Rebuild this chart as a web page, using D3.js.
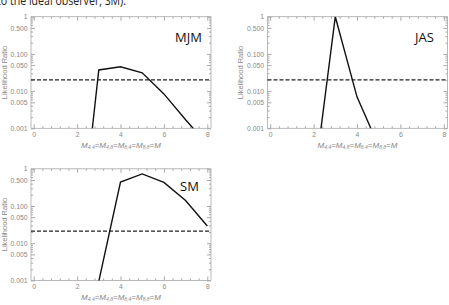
<!doctype html>
<html lang="en">
<head>
  <meta charset="utf-8">
  <title>Likelihood ratio panels - D3</title>
  <style>
    body { margin: 0; background: #fff; }
    svg { display: block; }
  </style>
</head>
<body>
  <svg></svg>
  <script src="https://cdn.jsdelivr.net/npm/d3@7/dist/d3.min.js"></script>
  <script>
    // data
    var mValues = [2, 3, 4, 5, 6, 7, 8];
    var mjmRatio = [2e-7, 0.037, 0.045, 0.031, 0.0084, 0.0017, 0.00037];
    var jasRatio = [2.8e-5, 1, 0.007, 0.00033, 1e-5, 1e-6, 1e-7];
    var smRatio = [1e-6, 0.00095, 0.44, 0.73, 0.43, 0.14, 0.029];
    var threshold = [0.02, 0.02, 0.021];
    var panelNames = ['MJM', 'JAS', 'SM'];
    var xTickValues = [0, 2, 4, 6, 8];
    var yTickValues = [1, 0.5, 0.1, 0.05, 0.01, 0.005, 0.001];
    var yTickLabels = ['1', '0.500', '0.100', '0.050', '0.010', '0.005', '0.001'];

    var width = 449, height = 305;
    var svg = d3.select('svg').attr('width', width).attr('height', height);

    // text cut at the top of the picture
    svg.append('text')
      .attr('x', -3).attr('y', 5)
      .attr('font-family', 'Open Sans, sans-serif')
      .attr('font-size', 12)
      .attr('textLength', 129)
      .attr('lengthAdjust', 'spacingAndGlyphs')
      .attr('fill', '#222')
      .text('to the ideal observer, SM).');

    var pw = 180, ph = 111.6;
    var panels = [
      { left: 31, top: 16.7, data: mjmRatio, label: { x: 175, y: 42 } },
      { left: 267.5, top: 16.7, data: jasRatio, label: { x: 415, y: 42 } },
      { left: 31, top: 168.8, data: smRatio, label: { x: 180, y: 191 } }
    ];

    var xScale = d3.scaleLinear().domain([0, 8]).range([2.7, 176.3]);
    var yScale = d3.scaleLog().domain([0.001, 1]).range([ph, 0]);

    // minor ticks
    var xMinor = d3.range(0, 8.01, 0.4).filter(function (v) { return Math.abs(v / 2 - Math.round(v / 2)) > 0.01; });
    var yMinor = [];
    [0.001, 0.01, 0.1].forEach(function (d) {
      for (var k = 2; k <= 9; k++) {
        var v = +(d * k).toPrecision(3);
        if (yTickValues.indexOf(v) < 0) yMinor.push(v);
      }
    });

    var frameColor = '#a8a8a8';
    var textColor = '#888';

    panels.forEach(function (p, i) {
      var g = svg.append('g').attr('transform', 'translate(' + p.left + ',' + p.top + ')');

      g.append('clipPath').attr('id', 'clip' + i)
        .append('rect').attr('width', pw).attr('height', ph);

      // axes with inward ticks
      g.append('g').attr('transform', 'translate(0,' + ph + ')')
        .call(d3.axisBottom(xScale).tickValues(xTickValues).tickSize(-4).tickPadding(3.5));
      g.append('g')
        .call(d3.axisTop(xScale).tickValues(xTickValues).tickSize(-4).tickFormat(''));
      g.append('g')
        .call(d3.axisLeft(yScale).tickValues(yTickValues).tickSize(-4).tickPadding(3.5)
          .tickFormat(function (d, j) { return yTickLabels[j]; }));
      g.append('g').attr('transform', 'translate(' + pw + ',0)')
        .call(d3.axisRight(yScale).tickValues(yTickValues).tickSize(-4).tickFormat(''));

      g.append('g').attr('transform', 'translate(0,' + ph + ')')
        .call(d3.axisBottom(xScale).tickValues(xMinor).tickSize(-2).tickFormat(''));
      g.append('g')
        .call(d3.axisTop(xScale).tickValues(xMinor).tickSize(-2).tickFormat(''));
      g.append('g')
        .call(d3.axisLeft(yScale).tickValues(yMinor).tickSize(-2).tickFormat(''));
      g.append('g').attr('transform', 'translate(' + pw + ',0)')
        .call(d3.axisRight(yScale).tickValues(yMinor).tickSize(-2).tickFormat(''));

      g.selectAll('.domain').remove();
      g.selectAll('.tick line').attr('stroke', frameColor);
      g.selectAll('.tick text')
        .attr('fill', textColor)
        .attr('font-family', 'Liberation Sans, Arial, sans-serif')
        .attr('font-size', 6.8);

      g.append('rect')
        .attr('width', pw).attr('height', ph)
        .attr('fill', 'none')
        .attr('stroke', frameColor)
        .attr('stroke-width', 0.8);

      // threshold line
      g.append('line')
        .attr('x1', 0).attr('x2', pw)
        .attr('y1', yScale(threshold[i])).attr('y2', yScale(threshold[i]))
        .attr('stroke', '#222')
        .attr('stroke-width', 1.3)
        .attr('stroke-dasharray', '4,2');

      // likelihood curve
      g.append('path')
        .datum(p.data)
        .attr('clip-path', 'url(#clip' + i + ')')
        .attr('fill', 'none')
        .attr('stroke', '#111')
        .attr('stroke-width', 1.4)
        .attr('d', d3.line()
          .x(function (v, j) { return xScale(mValues[j]); })
          .y(function (v) { return yScale(v); }));

      // panel name
      svg.append('text')
        .attr('x', p.label.x).attr('y', p.label.y)
        .attr('font-family', 'Open Sans, sans-serif')
        .attr('font-size', 13)
        .attr('fill', '#111')
        .text(panelNames[i]);

      // y title
      g.append('text')
        .attr('transform', 'translate(-24.5,' + (ph / 2) + ') rotate(-90)')
        .attr('text-anchor', 'middle')
        .attr('font-family', 'Liberation Sans, Arial, sans-serif')
        .attr('font-size', 7.5)
        .attr('fill', textColor)
        .text('Likelihood Ratio');

      // x title: M_{4,4}=M_{4,8}=M_{8,4}=M_{8,8}=M
      var subs = ['4,4', '4,8', '8,4', '8,8'];
      var xt = g.append('text')
        .attr('x', pw / 2).attr('y', ph + 19.5)
        .attr('text-anchor', 'middle')
        .attr('font-family', 'Liberation Sans, Arial, sans-serif')
        .attr('font-size', 8)
        .attr('font-style', 'italic')
        .attr('fill', textColor);
      subs.forEach(function (s) {
        xt.append('tspan').text('M');
        xt.append('tspan').attr('dy', 1.5).attr('font-size', 5).text(s);
        xt.append('tspan').attr('dy', -1.5).attr('font-style', 'normal').text('=');
      });
      xt.append('tspan').text('M');
    });
  </script>
</body>
</html>
